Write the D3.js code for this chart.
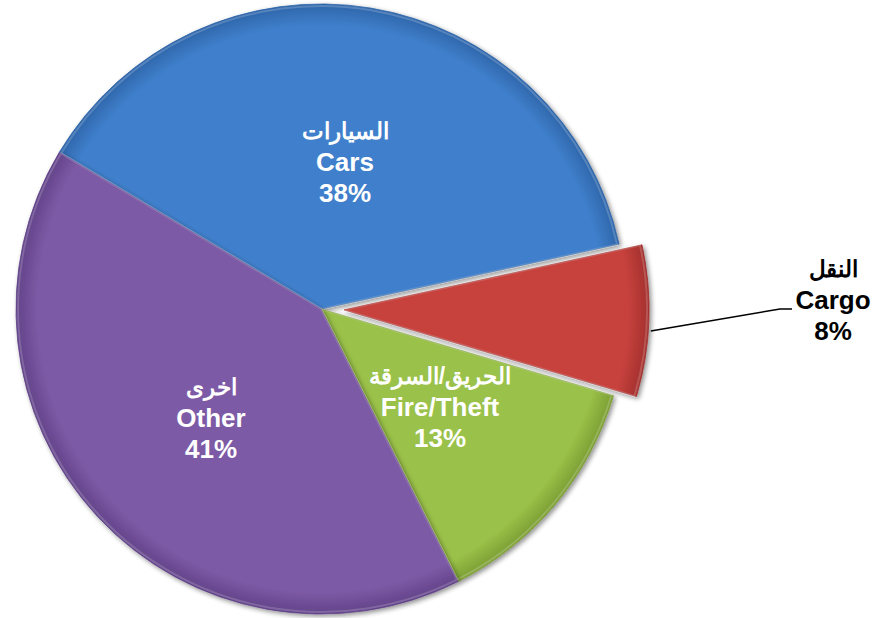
<!DOCTYPE html>
<html lang="en">
<head>
<meta charset="utf-8">
<title>Pie: Cars / Cargo / Fire-Theft / Other</title>
<script src="https://cdn.jsdelivr.net/npm/d3@7/dist/d3.min.js"></script>
<style>
  body { margin: 0; background: #fff; }
  text { font-family: "Liberation Sans", Arial, sans-serif; font-weight: bold; }
</style>
</head>
<body>
<div id="chart"></div>
<script>
// data
var namesAr = ["السيارات", "النقل", "الحريق/السرقة", "اخرى"];
var namesEn = ["Cars", "Cargo", "Fire/Theft", "Other"];
var shares = [38, 8, 13, 41];
var colors = ["#3f7fcb", "#c8423e", "#9ac148", "#7d5aa5"];
var darkColors = ["#2f66aa", "#a3302d", "#7c9e34", "#624389"];

var width = 879, height = 618;
var cx = 321, cy = 309, radius = 305;
var explode = [0, 23, 0, 0];

var svg = d3.select("#chart").append("svg")
  .attr("width", width)
  .attr("height", height);

var defs = svg.append("defs");

// soft shadow under the slices
var shadow = defs.append("filter").attr("id", "shadow")
  .attr("x", "-10%").attr("y", "-10%").attr("width", "120%").attr("height", "120%");
shadow.append("feGaussianBlur").attr("in", "SourceAlpha").attr("stdDeviation", 2.5);
shadow.append("feOffset").attr("dx", 1.5).attr("dy", 2).attr("result", "blur");
shadow.append("feComponentTransfer").append("feFuncA").attr("type", "linear").attr("slope", 0.45);
var merge = shadow.append("feMerge");
merge.append("feMergeNode");
merge.append("feMergeNode").attr("in", "SourceGraphic");

// one radial gradient per slice: flat body, darker towards the rim
colors.forEach(function(c, i) {
  var g = defs.append("radialGradient").attr("id", "grad" + i)
    .attr("gradientUnits", "userSpaceOnUse")
    .attr("cx", 0).attr("cy", 0).attr("r", radius);
  g.append("stop").attr("offset", "0%").attr("stop-color", c);
  g.append("stop").attr("offset", "93%").attr("stop-color", c);
  g.append("stop").attr("offset", "100%").attr("stop-color", darkColors[i]);
});

var pie = d3.pie()
  .value(function(d) { return d; })
  .sort(null)
  .startAngle(-59.1 * Math.PI / 180)
  .endAngle((360 - 59.1) * Math.PI / 180);

var arcs = pie(shares);

var arc = d3.arc().innerRadius(0).outerRadius(radius);
var bevel = d3.arc().innerRadius(0).outerRadius(radius - 2);

function offset(d, i) {
  var a = (d.startAngle + d.endAngle) / 2;
  return [Math.sin(a) * explode[i], -Math.cos(a) * explode[i]];
}

var g = svg.append("g")
  .attr("transform", "translate(" + cx + "," + cy + ")");

var slices = g.selectAll("g.slice")
  .data(arcs)
  .enter()
  .append("g")
  .attr("class", "slice")
  .attr("filter", "url(#shadow)")
  .attr("transform", function(d, i) {
    var o = offset(d, i);
    return "translate(" + o[0] + "," + o[1] + ")";
  });

slices.append("path")
  .attr("d", arc)
  .attr("fill", function(d, i) { return "url(#grad" + i + ")"; })
  .attr("stroke", function(d, i) { return darkColors[i]; })
  .attr("stroke-width", 0.8);

// light bevel highlight along the edges
slices.append("path")
  .attr("d", bevel)
  .attr("fill", "none")
  .attr("stroke", "#ffffff")
  .attr("stroke-opacity", 0.18)
  .attr("stroke-width", 2);

// label positions inside slices
var labelPos = [
  [345 - cx, 130 - cy],
  null,
  [440 - cx, 375 - cy],
  [211 - cx, 386 - cy]
];

var lineGap = 31;

arcs.forEach(function(d, i) {
  if (!labelPos[i]) return;
  var t = g.append("text")
    .attr("text-anchor", "middle")
    .attr("fill", "#fff")
    .style("font-size", "26px");
  t.append("tspan").attr("x", labelPos[i][0]).attr("y", labelPos[i][1] + 9)
    .attr("direction", "rtl").attr("unicode-bidi", "embed")
    .style("font-size", "23px")
    .text(namesAr[i]);
  t.append("tspan").attr("x", labelPos[i][0]).attr("y", labelPos[i][1] + 10 + lineGap)
    .text(namesEn[i]);
  t.append("tspan").attr("x", labelPos[i][0]).attr("y", labelPos[i][1] + 10 + lineGap * 2)
    .text(shares[i] + "%");
});

// outside label for the exploded slice, with a leader line
var ci = 1;
var o = offset(arcs[ci], ci);
var outerPt = d3.arc().innerRadius(radius).outerRadius(radius).centroid(arcs[ci]);
var p0 = [outerPt[0] + o[0] + 2, outerPt[1] + o[1] + 10];
svg.append("polyline")
  .attr("points", [[cx + p0[0], cy + p0[1]], [780, 309], [792, 309]].map(function(p) { return p.join(","); }).join(" "))
  .attr("fill", "none")
  .attr("stroke", "#000")
  .attr("stroke-width", 1.5);

var ot = svg.append("text")
  .attr("text-anchor", "middle")
  .attr("fill", "#000")
  .style("font-size", "26px");
ot.append("tspan").attr("x", 833).attr("y", 277)
  .attr("direction", "rtl").attr("unicode-bidi", "embed")
  .style("font-size", "23px")
  .text(namesAr[ci]);
ot.append("tspan").attr("x", 833).attr("y", 278 + lineGap).text(namesEn[ci]);
ot.append("tspan").attr("x", 833).attr("y", 278 + lineGap * 2).text(shares[ci] + "%");
</script>
</body>
</html>
